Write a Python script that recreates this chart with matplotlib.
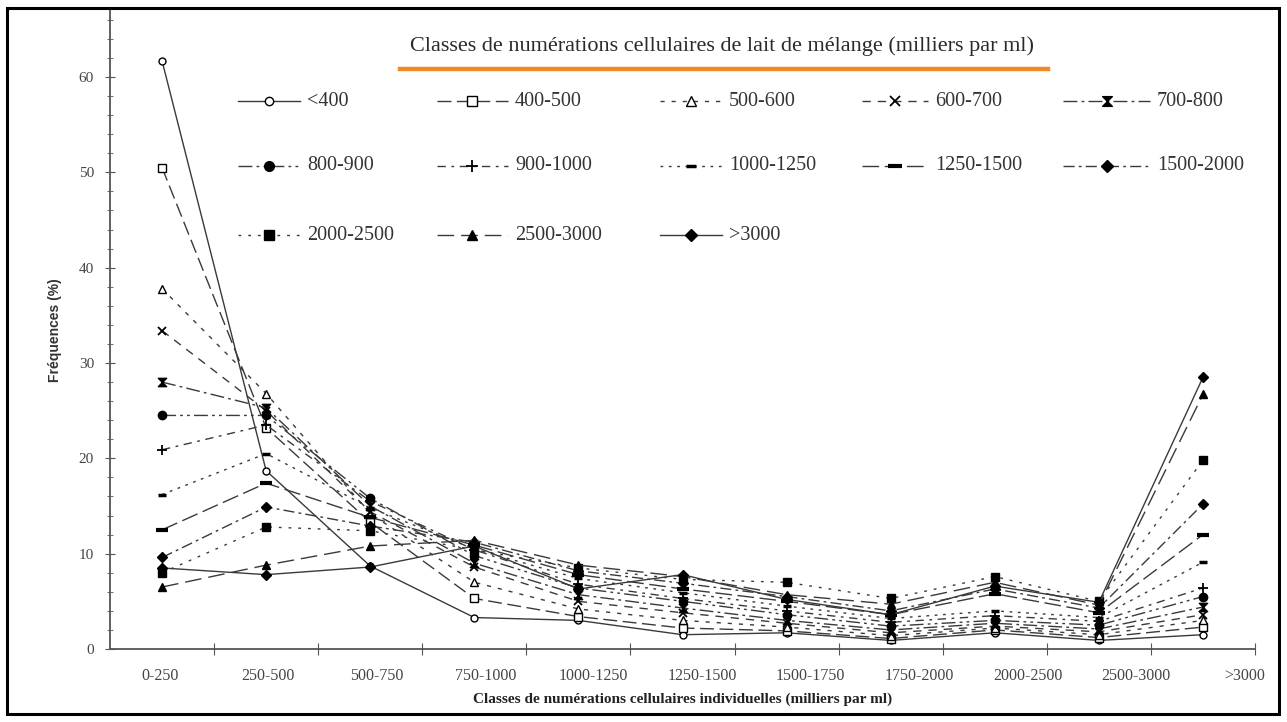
import matplotlib
matplotlib.use('Agg')
import matplotlib.pyplot as plt
from matplotlib.lines import Line2D
from matplotlib.patches import Rectangle
from matplotlib.path import Path
import numpy as np

# Data (frequencies in %)
categories = ['0-250', '250-500', '500-750', '750-1000', '1000-1250', '1250-1500',
              '1500-1750', '1750-2000', '2000-2500', '2500-3000', '>3000']

series_labels = ['<400', '400-500', '500-600', '600-700', '700-800', '800-900',
                 '900-1000', '1000-1250', '1250-1500', '1500-2000', '2000-2500',
                 '2500-3000', '>3000']

lt400     = [61.7, 18.7, 8.7, 3.3, 3.0, 1.5, 1.7, 0.9, 1.7, 0.9, 1.5]
c400_500  = [50.5, 23.2, 13.3, 5.3, 3.4, 2.2, 1.9, 1.1, 2.0, 1.2, 2.3]
c500_600  = [37.8, 26.8, 14.2, 7.0, 4.2, 3.0, 2.3, 1.4, 2.2, 1.5, 3.0]
c600_700  = [33.4, 25.0, 14.4, 8.6, 5.0, 3.8, 2.7, 1.7, 2.4, 1.8, 3.6]
c700_800  = [28.0, 25.3, 15.0, 9.0, 5.7, 4.3, 3.0, 2.0, 2.7, 2.1, 4.4]
c800_900  = [24.5, 24.5, 15.8, 9.8, 6.4, 5.0, 3.6, 2.4, 3.0, 2.5, 5.5]
c900_1000 = [20.9, 23.5, 15.5, 10.4, 6.8, 5.3, 4.0, 2.8, 3.5, 2.9, 6.4]
c1000_1250 = [16.2, 20.5, 14.8, 10.5, 7.4, 5.9, 4.5, 3.2, 4.0, 3.3, 9.1]
c1250_1500 = [12.5, 17.4, 13.8, 10.9, 7.8, 6.3, 5.0, 3.6, 5.8, 3.8, 12.0]
c1500_2000 = [9.6, 14.9, 12.9, 11.2, 8.2, 6.9, 5.5, 4.0, 6.3, 4.3, 15.2]
c2000_2500 = [8.0, 12.8, 12.4, 10.4, 8.5, 7.3, 7.0, 5.3, 7.6, 5.0, 19.8]
c2500_3000 = [6.5, 8.8, 10.8, 11.4, 8.8, 7.6, 5.7, 4.7, 7.0, 4.6, 26.7]
gt3000    = [8.5, 7.8, 8.6, 10.8, 6.3, 7.8, 5.2, 3.6, 6.6, 4.9, 28.5]

all_series = [lt400, c400_500, c500_600, c600_700, c700_800, c800_900, c900_1000,
              c1000_1250, c1250_1500, c1500_2000, c2000_2500, c2500_3000, gt3000]

# hourglass marker for 700-800
hourglass = Path([(-1, 1), (1, 1), (-1, -1), (1, -1), (-1, 1)],
                 [Path.MOVETO, Path.LINETO, Path.LINETO, Path.LINETO, Path.CLOSEPOLY])

line_col = '#3a3a3a'
# (linestyle, marker, markersize, filled, mew)
styles = [
    ('-',                     'o',       5, False, 1.0),
    ((0, (10, 4)),            's',       6, False, 1.0),
    ((0, (3, 5)),             '^',       6, False, 1.0),
    ((0, (6, 5)),             'x',       6, False, 1.3),
    ((0, (10, 3, 2, 3)),      hourglass, 6, True,  1.0),
    ((0, (10, 3, 2, 3, 2, 3)), 'o',      6, True,  1.0),
    ((0, (6, 4, 2, 4)),       '+',       7, False, 1.3),
    ((0, (2, 4)),             '_',       6, True,  2.5),
    ((0, (12, 4)),            '_',       9, True,  3.0),
    ((0, (8, 3, 2, 3)),       'D',       5, True,  1.0),
    ((0, (2, 5)),             's',       6, True,  1.0),
    ((0, (12, 5)),            '^',       6, True,  1.0),
    ('-',                     'D',       5, True,  1.0),
]

W, H = 1287, 722
fig = plt.figure(figsize=(W / 100, H / 100), dpi=100)
ax = fig.add_axes([110 / W, 73 / H, 1145 / W, 638.7 / H])

x = np.arange(len(categories))
for vals, (ls, mk, ms, filled, mew) in zip(all_series, styles):
    ax.plot(x, vals, linestyle=ls, color=line_col, linewidth=1.0,
            marker=mk, markersize=ms, markeredgewidth=mew,
            markeredgecolor='black',
            markerfacecolor='black' if filled else 'white', zorder=3)

ax.set_xlim(-0.5, 10.5)
ax.set_ylim(0, 67)
for s in ['top', 'right']:
    ax.spines[s].set_visible(False)
for s in ['left', 'bottom']:
    ax.spines[s].set_color('#555555')
    ax.spines[s].set_linewidth(1.3)

ax.set_yticks(np.arange(0, 61, 10))
ax.set_yticks(np.arange(0, 67, 2), minor=True)
ax.tick_params(axis='y', which='both', direction='inout', color='#555555',
               labelsize=11, labelcolor='#444444', pad=8)
ax.tick_params(axis='y', which='major', length=7)
ax.tick_params(axis='y', which='minor', length=5)
for t in ax.get_yticklabels():
    t.set_family('Liberation Serif')

# category boundary ticks on the x axis, labels slightly spread like the original
ax.set_xticks(np.arange(0.5, 11, 1.0))
ax.set_xticklabels([])
ax.tick_params(axis='x', which='major', direction='inout', length=9, color='#555555')
ax.set_xticks(np.arange(11) * 1.042 - 0.02, minor=True)
ax.set_xticklabels(categories, minor=True, family='Liberation Serif',
                   fontsize=11.5, color='#444444')
ax.tick_params(axis='x', which='minor', length=0, pad=14)

ax.set_xlabel('Classes de numérations cellulaires individuelles (milliers par ml)',
              family='Liberation Serif', fontweight='bold', fontsize=11,
              color='#222222', labelpad=6)
ax.set_ylabel('Fréquences (%)', family='Liberation Sans', fontweight='bold',
              fontsize=10, color='#333333', labelpad=12)

# title with orange underline
fig.text(722 / W, 1 - 46 / H,
         'Classes de numérations cellulaires de lait de mélange (milliers par ml)',
         ha='center', va='center', family='Liberation Serif', fontsize=16,
         color='#2a2a2a')
fig.add_artist(Line2D([400 / W, 1048 / W], [1 - 69 / H, 1 - 69 / H],
                      color='#f08a24', linewidth=3.2, transform=fig.transFigure))

# hand-placed legend, 3 rows x 5 columns
col_start = [238, 437, 660, 862, 1063]
col_end = [300, 508, 722, 928, 1150]
row_y = [101, 166, 235]
for i, (lab, (ls, mk, ms, filled, mew)) in enumerate(zip(series_labels, styles)):
    r, c = divmod(i, 5)
    y = 1 - row_y[r] / H
    x0, x1 = col_start[c] / W, col_end[c] / W
    fig.add_artist(Line2D([x0, x1], [y, y], linestyle=ls, color=line_col,
                          linewidth=1.0, transform=fig.transFigure))
    fig.add_artist(Line2D([(x0 + x1) / 2], [y], marker=mk, markersize=ms + 1,
                          markeredgewidth=mew, markeredgecolor='black',
                          markerfacecolor='black' if filled else 'white',
                          linestyle='none', transform=fig.transFigure))
    fig.text(x1 + 7 / W, y, lab, ha='left', va='center',
             family='Liberation Serif', fontsize=14.5, color='#333333')

# outer frame
fig.add_artist(Rectangle((7 / W, 8 / H), 1272 / W, 706 / H, fill=False,
                         edgecolor='black', linewidth=2.2, transform=fig.transFigure))

fig.savefig('out.png', dpi=100)
